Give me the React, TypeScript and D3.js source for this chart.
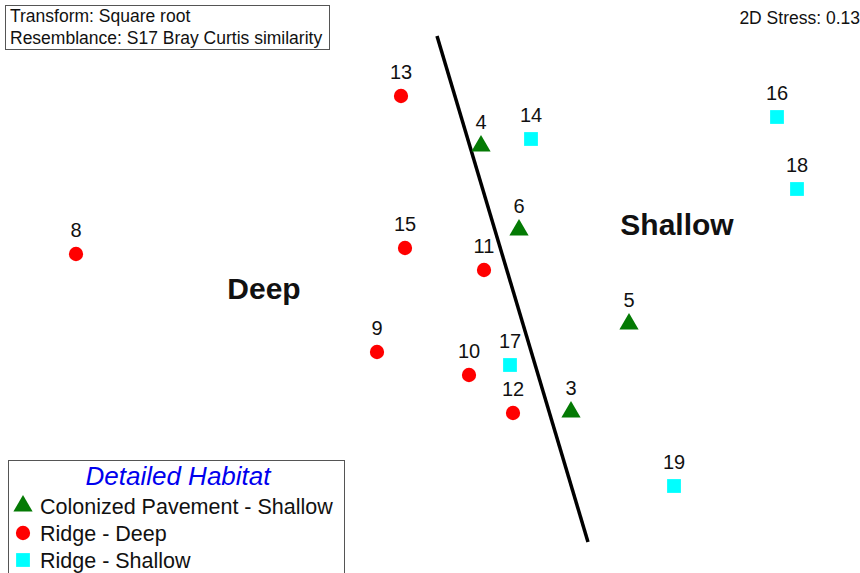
import React, { useEffect, useRef } from 'react';
import * as d3 from 'd3';

// NMDS ordination scores
const sampleIds = ['13', '14', '4', '16', '18', '8', '15', '6', '11', '5', '9', '17', '10', '12', '3', '19'];
const mds1 = [-0.145, 0.505, 0.255, 1.735, 1.835, -1.77, -0.125, 0.445, 0.27, 0.995, -0.265, 0.4, 0.195, 0.415, 0.705, 1.22];
const mds2 = [0.97, 0.755, 0.72, 0.865, 0.505, 0.18, 0.21, 0.3, 0.1, -0.17, -0.31, -0.375, -0.425, -0.615, -0.61, -0.98];
const habitat = ['RD', 'RS', 'CPS', 'RS', 'RS', 'RD', 'RD', 'CPS', 'RD', 'CPS', 'RD', 'RS', 'RD', 'RD', 'CPS', 'RS'];

const habitatKeys = ['CPS', 'RD', 'RS'];
const habitatNames = ['Colonized Pavement - Shallow', 'Ridge - Deep', 'Ridge - Shallow'];
const habitatColors = ['#047a04', '#ff0000', '#00ffff'];

// dividing line between deep and shallow groups
const splitLine: [number, number][] = [[0.035, 1.27], [0.79, -1.26]];
const groupLabels = [
  { text: 'Deep', x: -0.83, y: 0.01 },
  { text: 'Shallow', x: 1.235, y: 0.33 },
];

const W = 860;
const H = 573;
const font = 'Liberation Sans, Arial, sans-serif';

const App: React.FC = () => {
  const svgRef = useRef<SVGSVGElement | null>(null);

  useEffect(() => {
    document.body.style.margin = '0';
    const svg = d3.select(svgRef.current).attr('width', W).attr('height', H).style('background', '#fff');
    svg.selectAll('*').remove();

    const x = d3.scaleLinear().domain([-2.15, 2.15]).range([0, W]);
    const y = d3.scaleLinear().domain([1.45, -1.45]).range([0, 580]);

    const color = d3.scaleOrdinal<string, string>().domain(habitatKeys).range(habitatColors);
    const shape = d3.scaleOrdinal<string, d3.SymbolType>()
      .domain(habitatKeys)
      .range([d3.symbolTriangle, d3.symbolCircle, d3.symbolSquare]);
    const size = d3.scaleOrdinal<string, number>().domain(habitatKeys).range([160, 160, 190]);

    // top-left info box
    svg.append('rect')
      .attr('x', 5.5).attr('y', 5.5).attr('width', 324).attr('height', 44)
      .attr('fill', '#fff').attr('stroke', '#555').attr('stroke-width', 1);
    ['Transform: Square root', 'Resemblance: S17 Bray Curtis similarity'].forEach((t, i) => {
      svg.append('text')
        .attr('x', 10).attr('y', 22 + i * 22)
        .attr('font-family', font).attr('font-size', 17.5).attr('fill', '#111')
        .text(t);
    });

    svg.append('text')
      .attr('x', 860).attr('y', 24).attr('text-anchor', 'end')
      .attr('font-family', font).attr('font-size', 17.5).attr('fill', '#111')
      .text('2D Stress: 0.13');

    // dividing line
    svg.append('path')
      .datum(splitLine)
      .attr('d', d3.line<[number, number]>().x((d) => x(d[0])).y((d) => y(d[1])))
      .attr('stroke', '#000').attr('stroke-width', 3.5).attr('fill', 'none');

    groupLabels.forEach((g) => {
      svg.append('text')
        .attr('x', x(g.x)).attr('y', y(g.y)).attr('text-anchor', 'middle').attr('dy', '0.35em')
        .attr('font-family', font).attr('font-size', 30).attr('font-weight', 'bold').attr('fill', '#111')
        .text(g.text);
    });

    const pts = sampleIds.map((id, i) => ({ id, x: mds1[i], y: mds2[i], h: habitat[i] }));

    const g = svg.append('g');
    g.selectAll('path.pt')
      .data(pts)
      .join('path')
      .attr('class', 'pt')
      .attr('transform', (d) => `translate(${x(d.x)},${y(d.y)})`)
      .attr('d', (d) => d3.symbol().type(shape(d.h)).size(size(d.h))())
      .attr('fill', (d) => color(d.h));

    g.selectAll('text.lab')
      .data(pts)
      .join('text')
      .attr('class', 'lab')
      .attr('x', (d) => x(d.x))
      .attr('y', (d) => y(d.y) - 17)
      .attr('text-anchor', 'middle')
      .attr('font-family', font).attr('font-size', 20).attr('fill', '#111')
      .text((d) => d.id);

    // legend
    const lg = svg.append('g');
    lg.append('rect')
      .attr('x', 8.5).attr('y', 460.5).attr('width', 336).attr('height', 120)
      .attr('fill', '#fff').attr('stroke', '#555').attr('stroke-width', 1);
    lg.append('text')
      .attr('x', 178).attr('y', 485).attr('text-anchor', 'middle')
      .attr('font-family', font).attr('font-size', 26).attr('font-style', 'italic').attr('fill', '#0000ee')
      .text('Detailed Habitat');
    habitatKeys.forEach((k, i) => {
      const cy = 506 + i * 27;
      lg.append('path')
        .attr('transform', `translate(23,${cy})`)
        .attr('d', d3.symbol().type(shape(k)).size(size(k))())
        .attr('fill', color(k));
      lg.append('text')
        .attr('x', 40).attr('y', cy).attr('dy', '0.35em')
        .attr('font-family', font).attr('font-size', 21.5).attr('fill', '#111')
        .text(habitatNames[i]);
    });
  }, []);

  return <svg ref={svgRef} style={{ display: 'block' }}></svg>;
};

export default App;
